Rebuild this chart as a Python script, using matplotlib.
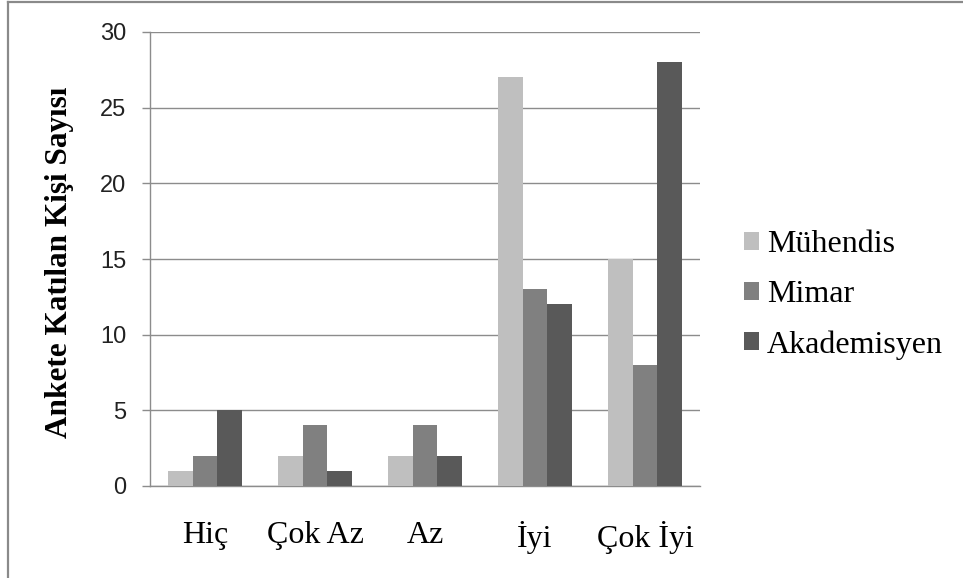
import numpy as np
import matplotlib
matplotlib.use("Agg")
import matplotlib.pyplot as plt
from matplotlib.lines import Line2D

# survey answers per group
kategoriler = ["Hiç", "Çok Az", "Az", "İyi", "Çok İyi"]
muhendis = [1, 2, 2, 27, 15]
mimar = [2, 4, 4, 13, 8]
akademisyen = [5, 1, 2, 12, 28]
seriler = ["Mühendis", "Mimar", "Akademisyen"]
renkler = ["#BFBFBF", "#808080", "#595959"]

grid_renk = "#8C8C8C"

fig = plt.figure(figsize=(9.63, 5.78), dpi=100)
ax = fig.add_axes([150/963, 1 - 486/578, 550/963, 454/578])

x = np.arange(len(kategoriler))
w = 0.222
for i, (vals, ad) in enumerate(zip([muhendis, mimar, akademisyen], seriler)):
    ax.bar(x + (i - 1) * w, vals, width=w, color=renkler[i], label=ad, zorder=3)

ax.set_xlim(-0.5, len(kategoriler) - 0.5)
ax.set_ylim(0, 30)
ax.set_yticks(range(0, 31, 5))
ax.yaxis.grid(True, color=grid_renk, linewidth=1.0, zorder=0)
ax.set_axisbelow(True)

for s in ["top", "right"]:
    ax.spines[s].set_visible(False)
for s in ["left", "bottom"]:
    ax.spines[s].set_color(grid_renk)
    ax.spines[s].set_linewidth(1.0)

ax.set_xticks(x)
ax.set_xticklabels(kategoriler, fontfamily="Liberation Serif", fontsize=23)
ax.tick_params(axis="x", length=0, pad=25)
ax.tick_params(axis="y", length=6, width=1.0, color=grid_renk, pad=11,
               labelsize=17, labelcolor="#222222")
for t in ax.get_yticklabels():
    t.set_fontfamily("Liberation Sans")

fig.text(60/963, 1 - 262/578, "Ankete Katılan Kişi Sayısı", rotation=90,
         ha="center", va="center", fontfamily="Liberation Serif",
         fontweight="bold", fontsize=22.5)

leg = fig.legend(loc="center left", bbox_to_anchor=(744/963, 1 - 295/578),
                 frameon=False, prop={"family": "Liberation Serif", "size": 23},
                 handlelength=0.47, handleheight=0.47, handletextpad=0.25,
                 labelspacing=0.65, borderpad=0, borderaxespad=0)

# outer frame, top and left only
fig.add_artist(Line2D([8/963, 1], [1 - 2/578, 1 - 2/578], color="#8A8A8A",
                      linewidth=1.6, transform=fig.transFigure))
fig.add_artist(Line2D([8/963, 8/963], [0, 1 - 2/578], color="#8A8A8A",
                      linewidth=1.6, transform=fig.transFigure))

fig.savefig("out.png", dpi=100, facecolor="white")
